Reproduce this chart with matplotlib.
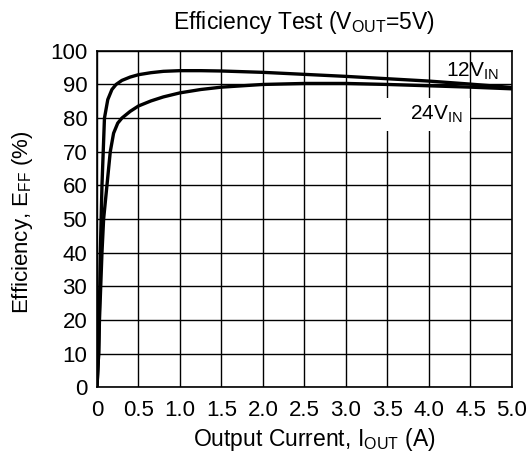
import matplotlib
matplotlib.use("Agg")
from matplotlib import pyplot as plt

plt.rcParams['font.family'] = ['Liberation Sans', 'DejaVu Sans']
plt.rcParams['mathtext.fontset'] = 'custom'
plt.rcParams['mathtext.rm'] = 'Liberation Sans'
plt.rcParams['mathtext.it'] = 'Liberation Sans'
plt.rcParams['mathtext.default'] = 'regular'

# 12V input curve
i_12v = [0, 0.02, 0.04, 0.06, 0.09, 0.13, 0.18, 0.23, 0.3, 0.4, 0.5, 0.65, 0.8,
         1.0, 1.25, 1.5, 2.0, 2.5, 3.0, 3.5, 4.0, 4.5, 5.0]
eff_12v = [0, 10, 40, 60, 80, 85.5, 88.5, 90, 91.2, 92.2, 92.9, 93.5, 93.9,
           94.1, 94.1, 94.0, 93.6, 93.0, 92.4, 91.7, 91.0, 90.1, 89.1]

# 24V input curve
i_24v = [0, 0.02, 0.03, 0.06, 0.08, 0.12, 0.16, 0.2, 0.25, 0.3, 0.4, 0.5, 0.65,
         0.8, 1.0, 1.25, 1.5, 2.0, 2.5, 3.0, 3.5, 4.0, 4.5, 5.0]
eff_24v = [0, 10, 20, 40, 50, 60, 70, 75.5, 78.5, 80, 82, 83.6, 85.1,
           86.3, 87.5, 88.5, 89.2, 90.0, 90.3, 90.3, 90.0, 89.6, 89.2, 88.7]

xticks = [0, 0.5, 1.0, 1.5, 2.0, 2.5, 3.0, 3.5, 4.0, 4.5, 5.0]
xtick_labels = ['0', '0.5', '1.0', '1.5', '2.0', '2.5', '3.0', '3.5', '4.0', '4.5', '5.0']
yticks = list(range(0, 101, 10))

fig = plt.figure(figsize=(5.3, 4.62), dpi=100)
ax = fig.add_axes([0.183, 0.162, 0.783, 0.728])

ax.plot(i_12v, eff_12v, color='black', lw=2.4, solid_capstyle='round', zorder=3)
ax.plot(i_24v, eff_24v, color='black', lw=2.4, solid_capstyle='round', zorder=3)

ax.set_xlim(0, 5)
ax.set_ylim(0, 100)
ax.set_xticks(xticks)
ax.set_xticklabels(xtick_labels)
ax.set_yticks(yticks)
ax.grid(True, color='black', lw=1.0, zorder=1)
ax.tick_params(axis='x', length=0, labelsize=16, pad=9)
ax.tick_params(axis='y', length=0, labelsize=16, pad=7)
for s in ax.spines.values():
    s.set_linewidth(1.2)

ax.text(4.52, 94.0, '12V$_{IN}$', fontsize=15, ha='center', va='center', zorder=4)
# extra spaces widen the white box so it cuts the grid like the original
ax.text(3.96, 81.0, '    24V$_{IN}$ ', fontsize=15, ha='center', va='center', zorder=4,
        bbox=dict(facecolor='white', edgecolor='none', pad=4))

ax.set_title('Efficiency Test (V$_{OUT}$=5V)', fontsize=16.5, pad=16)
ax.set_xlabel('Output Current, I$_{OUT}$ (A)', fontsize=16.5)
ax.xaxis.set_label_coords(0.524, -0.116)
ax.set_ylabel('Efficiency, E$_{FF}$ (%)', fontsize=16)
ax.yaxis.set_label_coords(-0.15, 0.49)

fig.savefig('out.png', dpi=100)
